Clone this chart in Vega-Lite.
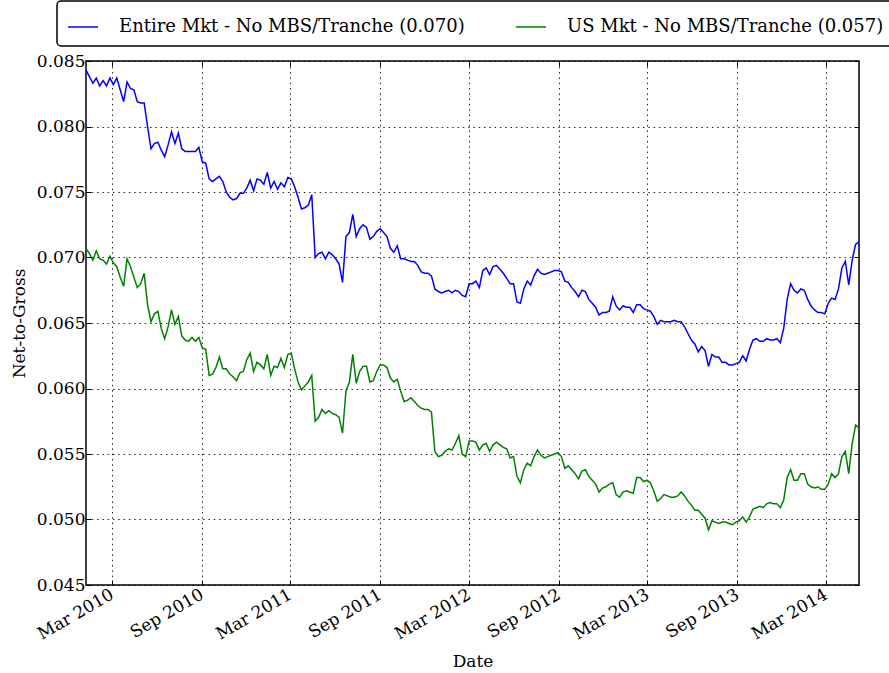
{
  "$schema": "https://vega.github.io/schema/vega-lite/v6.json",
  "autosize": {"type": "none"},
  "width": 773,
  "height": 524,
  "padding": {"left": 86, "top": 61, "right": 30, "bottom": 88},
  "background": "white",
  "config": {
    "view": {"stroke": "black", "strokeWidth": 1.5},
    "font": "DejaVu Serif",
    "legend": {"strokeWidth": 1.5},
    "axis": {
      "labelFont": "DejaVu Serif",
      "titleFont": "DejaVu Serif",
      "labelFontSize": 17,
      "titleFontSize": 17,
      "titleFontWeight": "normal",
      "labelColor": "black",
      "titleColor": "black",
      "domain": false,
      "tickColor": "black",
      "tickSize": -5,
      "tickWidth": 1
    }
  },
  "data": {
    "format": {"parse": {"d": "date:'%Y-%m-%d'"}},
    "values": [
{"d":"2010-01-07","e":0.0843,"u":0.0707},
{"d":"2010-01-14","e":0.0838,"u":0.0703},
{"d":"2010-01-21","e":0.0833,"u":0.0698},
{"d":"2010-01-28","e":0.0837,"u":0.0705},
{"d":"2010-02-04","e":0.0831,"u":0.0699},
{"d":"2010-02-11","e":0.0835,"u":0.0698},
{"d":"2010-02-18","e":0.0831,"u":0.0695},
{"d":"2010-02-25","e":0.0837,"u":0.0701},
{"d":"2010-03-04","e":0.0832,"u":0.0696},
{"d":"2010-03-11","e":0.0837,"u":0.0693},
{"d":"2010-03-18","e":0.0828,"u":0.0685},
{"d":"2010-03-25","e":0.0819,"u":0.0678},
{"d":"2010-04-01","e":0.0834,"u":0.0699},
{"d":"2010-04-08","e":0.0829,"u":0.0693},
{"d":"2010-04-15","e":0.0828,"u":0.0685},
{"d":"2010-04-22","e":0.0819,"u":0.0677},
{"d":"2010-04-29","e":0.0818,"u":0.0680},
{"d":"2010-05-06","e":0.0818,"u":0.0688},
{"d":"2010-05-13","e":0.0800,"u":0.0664},
{"d":"2010-05-20","e":0.0783,"u":0.0651},
{"d":"2010-05-27","e":0.0787,"u":0.0657},
{"d":"2010-06-03","e":0.0788,"u":0.0659},
{"d":"2010-06-10","e":0.0782,"u":0.0646},
{"d":"2010-06-17","e":0.0777,"u":0.0638},
{"d":"2010-06-24","e":0.0786,"u":0.0647},
{"d":"2010-07-01","e":0.0796,"u":0.0660},
{"d":"2010-07-08","e":0.0787,"u":0.0649},
{"d":"2010-07-15","e":0.0795,"u":0.0655},
{"d":"2010-07-22","e":0.0783,"u":0.0640},
{"d":"2010-07-29","e":0.0781,"u":0.0637},
{"d":"2010-08-05","e":0.0781,"u":0.0636},
{"d":"2010-08-12","e":0.0781,"u":0.0639},
{"d":"2010-08-19","e":0.0781,"u":0.0636},
{"d":"2010-08-26","e":0.0784,"u":0.0639},
{"d":"2010-09-02","e":0.0773,"u":0.0631},
{"d":"2010-09-09","e":0.0772,"u":0.0630},
{"d":"2010-09-16","e":0.0760,"u":0.0610},
{"d":"2010-09-23","e":0.0758,"u":0.0611},
{"d":"2010-09-30","e":0.0760,"u":0.0616},
{"d":"2010-10-07","e":0.0762,"u":0.0624},
{"d":"2010-10-14","e":0.0758,"u":0.0615},
{"d":"2010-10-21","e":0.0750,"u":0.0615},
{"d":"2010-10-28","e":0.0746,"u":0.0611},
{"d":"2010-11-04","e":0.0744,"u":0.0609},
{"d":"2010-11-11","e":0.0745,"u":0.0606},
{"d":"2010-11-18","e":0.0749,"u":0.0612},
{"d":"2010-11-25","e":0.0749,"u":0.0613},
{"d":"2010-12-02","e":0.0753,"u":0.0622},
{"d":"2010-12-09","e":0.0759,"u":0.0627},
{"d":"2010-12-16","e":0.0751,"u":0.0613},
{"d":"2010-12-23","e":0.0760,"u":0.0620},
{"d":"2010-12-30","e":0.0759,"u":0.0618},
{"d":"2011-01-06","e":0.0756,"u":0.0615},
{"d":"2011-01-13","e":0.0765,"u":0.0626},
{"d":"2011-01-20","e":0.0753,"u":0.0610},
{"d":"2011-01-27","e":0.0758,"u":0.0617},
{"d":"2011-02-03","e":0.0752,"u":0.0616},
{"d":"2011-02-10","e":0.0757,"u":0.0623},
{"d":"2011-02-17","e":0.0754,"u":0.0616},
{"d":"2011-02-24","e":0.0761,"u":0.0626},
{"d":"2011-03-03","e":0.0760,"u":0.0627},
{"d":"2011-03-10","e":0.0754,"u":0.0615},
{"d":"2011-03-17","e":0.0746,"u":0.0605},
{"d":"2011-03-24","e":0.0737,"u":0.0599},
{"d":"2011-03-31","e":0.0738,"u":0.0602},
{"d":"2011-04-07","e":0.0740,"u":0.0605},
{"d":"2011-04-14","e":0.0748,"u":0.0610},
{"d":"2011-04-21","e":0.0700,"u":0.0575},
{"d":"2011-04-28","e":0.0703,"u":0.0578},
{"d":"2011-05-05","e":0.0704,"u":0.0584},
{"d":"2011-05-12","e":0.0699,"u":0.0581},
{"d":"2011-05-19","e":0.0704,"u":0.0583},
{"d":"2011-05-26","e":0.0702,"u":0.0581},
{"d":"2011-06-02","e":0.0699,"u":0.0580},
{"d":"2011-06-09","e":0.0695,"u":0.0578},
{"d":"2011-06-16","e":0.0681,"u":0.0566},
{"d":"2011-06-23","e":0.0716,"u":0.0598},
{"d":"2011-06-30","e":0.0719,"u":0.0605},
{"d":"2011-07-07","e":0.0733,"u":0.0626},
{"d":"2011-07-14","e":0.0716,"u":0.0604},
{"d":"2011-07-21","e":0.0722,"u":0.0613},
{"d":"2011-07-28","e":0.0725,"u":0.0617},
{"d":"2011-08-04","e":0.0723,"u":0.0617},
{"d":"2011-08-11","e":0.0714,"u":0.0605},
{"d":"2011-08-18","e":0.0716,"u":0.0606},
{"d":"2011-08-25","e":0.0720,"u":0.0613},
{"d":"2011-09-01","e":0.0722,"u":0.0618},
{"d":"2011-09-08","e":0.0719,"u":0.0618},
{"d":"2011-09-15","e":0.0716,"u":0.0616},
{"d":"2011-09-22","e":0.0707,"u":0.0608},
{"d":"2011-09-29","e":0.0704,"u":0.0605},
{"d":"2011-10-06","e":0.0709,"u":0.0607},
{"d":"2011-10-13","e":0.0699,"u":0.0598},
{"d":"2011-10-20","e":0.0699,"u":0.0590},
{"d":"2011-10-27","e":0.0698,"u":0.0591},
{"d":"2011-11-03","e":0.0697,"u":0.0593},
{"d":"2011-11-10","e":0.0697,"u":0.0590},
{"d":"2011-11-17","e":0.0694,"u":0.0587},
{"d":"2011-11-24","e":0.0689,"u":0.0585},
{"d":"2011-12-01","e":0.0688,"u":0.0584},
{"d":"2011-12-08","e":0.0688,"u":0.0584},
{"d":"2011-12-15","e":0.0686,"u":0.0582},
{"d":"2011-12-22","e":0.0676,"u":0.0552},
{"d":"2011-12-29","e":0.0674,"u":0.0548},
{"d":"2012-01-05","e":0.0673,"u":0.0549},
{"d":"2012-01-12","e":0.0674,"u":0.0552},
{"d":"2012-01-19","e":0.0675,"u":0.0554},
{"d":"2012-01-26","e":0.0673,"u":0.0553},
{"d":"2012-02-02","e":0.0675,"u":0.0558},
{"d":"2012-02-09","e":0.0674,"u":0.0564},
{"d":"2012-02-16","e":0.0671,"u":0.0550},
{"d":"2012-02-23","e":0.0670,"u":0.0548},
{"d":"2012-03-01","e":0.0680,"u":0.0560},
{"d":"2012-03-08","e":0.0680,"u":0.0560},
{"d":"2012-03-15","e":0.0682,"u":0.0559},
{"d":"2012-03-22","e":0.0677,"u":0.0553},
{"d":"2012-03-29","e":0.0690,"u":0.0557},
{"d":"2012-04-05","e":0.0692,"u":0.0558},
{"d":"2012-04-12","e":0.0687,"u":0.0552},
{"d":"2012-04-19","e":0.0693,"u":0.0557},
{"d":"2012-04-26","e":0.0694,"u":0.0559},
{"d":"2012-05-03","e":0.0691,"u":0.0557},
{"d":"2012-05-10","e":0.0688,"u":0.0555},
{"d":"2012-05-17","e":0.0684,"u":0.0554},
{"d":"2012-05-24","e":0.0680,"u":0.0547},
{"d":"2012-05-31","e":0.0680,"u":0.0548},
{"d":"2012-06-07","e":0.0666,"u":0.0533},
{"d":"2012-06-14","e":0.0665,"u":0.0528},
{"d":"2012-06-21","e":0.0676,"u":0.0538},
{"d":"2012-06-28","e":0.0682,"u":0.0543},
{"d":"2012-07-05","e":0.0679,"u":0.0541},
{"d":"2012-07-12","e":0.0686,"u":0.0548},
{"d":"2012-07-19","e":0.0691,"u":0.0553},
{"d":"2012-07-26","e":0.0688,"u":0.0549},
{"d":"2012-08-02","e":0.0687,"u":0.0547},
{"d":"2012-08-09","e":0.0688,"u":0.0548},
{"d":"2012-08-16","e":0.0689,"u":0.0549},
{"d":"2012-08-23","e":0.0690,"u":0.0550},
{"d":"2012-08-30","e":0.0690,"u":0.0551},
{"d":"2012-09-06","e":0.0689,"u":0.0548},
{"d":"2012-09-13","e":0.0682,"u":0.0539},
{"d":"2012-09-20","e":0.0681,"u":0.0541},
{"d":"2012-09-27","e":0.0677,"u":0.0538},
{"d":"2012-10-04","e":0.0674,"u":0.0535},
{"d":"2012-10-11","e":0.0670,"u":0.0531},
{"d":"2012-10-18","e":0.0675,"u":0.0537},
{"d":"2012-10-25","e":0.0674,"u":0.0538},
{"d":"2012-11-01","e":0.0668,"u":0.0533},
{"d":"2012-11-08","e":0.0665,"u":0.0530},
{"d":"2012-11-15","e":0.0662,"u":0.0527},
{"d":"2012-11-22","e":0.0656,"u":0.0521},
{"d":"2012-11-29","e":0.0658,"u":0.0524},
{"d":"2012-12-06","e":0.0658,"u":0.0525},
{"d":"2012-12-13","e":0.0659,"u":0.0527},
{"d":"2012-12-20","e":0.0670,"u":0.0528},
{"d":"2012-12-27","e":0.0663,"u":0.0519},
{"d":"2013-01-03","e":0.0660,"u":0.0517},
{"d":"2013-01-10","e":0.0663,"u":0.0521},
{"d":"2013-01-17","e":0.0662,"u":0.0522},
{"d":"2013-01-24","e":0.0662,"u":0.0521},
{"d":"2013-01-31","e":0.0658,"u":0.0520},
{"d":"2013-02-07","e":0.0664,"u":0.0532},
{"d":"2013-02-14","e":0.0664,"u":0.0532},
{"d":"2013-02-21","e":0.0661,"u":0.0529},
{"d":"2013-02-28","e":0.0660,"u":0.0530},
{"d":"2013-03-07","e":0.0659,"u":0.0528},
{"d":"2013-03-14","e":0.0655,"u":0.0522},
{"d":"2013-03-21","e":0.0649,"u":0.0514},
{"d":"2013-03-28","e":0.0652,"u":0.0516},
{"d":"2013-04-04","e":0.0651,"u":0.0519},
{"d":"2013-04-11","e":0.0651,"u":0.0518},
{"d":"2013-04-18","e":0.0651,"u":0.0517},
{"d":"2013-04-25","e":0.0652,"u":0.0517},
{"d":"2013-05-02","e":0.0651,"u":0.0518},
{"d":"2013-05-09","e":0.0651,"u":0.0521},
{"d":"2013-05-16","e":0.0647,"u":0.0518},
{"d":"2013-05-23","e":0.0642,"u":0.0514},
{"d":"2013-05-30","e":0.0637,"u":0.0511},
{"d":"2013-06-06","e":0.0634,"u":0.0507},
{"d":"2013-06-13","e":0.0628,"u":0.0507},
{"d":"2013-06-20","e":0.0632,"u":0.0504},
{"d":"2013-06-27","e":0.0629,"u":0.0501},
{"d":"2013-07-04","e":0.0617,"u":0.0492},
{"d":"2013-07-11","e":0.0626,"u":0.0499},
{"d":"2013-07-18","e":0.0624,"u":0.0498},
{"d":"2013-07-25","e":0.0624,"u":0.0497},
{"d":"2013-08-01","e":0.0620,"u":0.0498},
{"d":"2013-08-08","e":0.0620,"u":0.0498},
{"d":"2013-08-15","e":0.0618,"u":0.0497},
{"d":"2013-08-22","e":0.0618,"u":0.0496},
{"d":"2013-08-29","e":0.0619,"u":0.0498},
{"d":"2013-09-05","e":0.0620,"u":0.0499},
{"d":"2013-09-12","e":0.0625,"u":0.0502},
{"d":"2013-09-19","e":0.0621,"u":0.0498},
{"d":"2013-09-26","e":0.0630,"u":0.0502},
{"d":"2013-10-03","e":0.0637,"u":0.0508},
{"d":"2013-10-10","e":0.0638,"u":0.0509},
{"d":"2013-10-17","e":0.0636,"u":0.0510},
{"d":"2013-10-24","e":0.0636,"u":0.0509},
{"d":"2013-10-31","e":0.0638,"u":0.0512},
{"d":"2013-11-07","e":0.0637,"u":0.0513},
{"d":"2013-11-14","e":0.0637,"u":0.0512},
{"d":"2013-11-21","e":0.0638,"u":0.0512},
{"d":"2013-11-28","e":0.0635,"u":0.0509},
{"d":"2013-12-05","e":0.0646,"u":0.0515},
{"d":"2013-12-12","e":0.0668,"u":0.0532},
{"d":"2013-12-19","e":0.0680,"u":0.0538},
{"d":"2013-12-26","e":0.0675,"u":0.0530},
{"d":"2014-01-02","e":0.0673,"u":0.0530},
{"d":"2014-01-09","e":0.0676,"u":0.0535},
{"d":"2014-01-16","e":0.0675,"u":0.0535},
{"d":"2014-01-23","e":0.0668,"u":0.0527},
{"d":"2014-01-30","e":0.0663,"u":0.0525},
{"d":"2014-02-06","e":0.0660,"u":0.0524},
{"d":"2014-02-13","e":0.0658,"u":0.0525},
{"d":"2014-02-20","e":0.0658,"u":0.0523},
{"d":"2014-02-27","e":0.0657,"u":0.0523},
{"d":"2014-03-06","e":0.0665,"u":0.0527},
{"d":"2014-03-13","e":0.0669,"u":0.0535},
{"d":"2014-03-20","e":0.0668,"u":0.0532},
{"d":"2014-03-27","e":0.0676,"u":0.0535},
{"d":"2014-04-03","e":0.0692,"u":0.0548},
{"d":"2014-04-10","e":0.0697,"u":0.0552},
{"d":"2014-04-17","e":0.0679,"u":0.0535},
{"d":"2014-04-24","e":0.0698,"u":0.0558},
{"d":"2014-05-01","e":0.0710,"u":0.0572},
{"d":"2014-05-08","e":0.0712,"u":0.0570}
    ]
  },
  "transform": [{"fold": ["e", "u"], "as": ["s", "v"]}],
  "layer": [
    {
      "mark": {"type": "line", "strokeWidth": 1.5, "clip": true},
      "encoding": {
        "x": {
          "field": "d",
          "type": "temporal",
          "scale": {"domain": [{"year": 2010, "month": 1, "date": 7}, {"year": 2014, "month": 5, "date": 8}]},
          "axis": {
            "orient": "bottom",
            "title": "Date",
            "values": [
              {"year": 2010, "month": 3, "date": 1}, {"year": 2010, "month": 9, "date": 1},
              {"year": 2011, "month": 3, "date": 1}, {"year": 2011, "month": 9, "date": 1},
              {"year": 2012, "month": 3, "date": 1}, {"year": 2012, "month": 9, "date": 1},
              {"year": 2013, "month": 3, "date": 1}, {"year": 2013, "month": 9, "date": 1},
              {"year": 2014, "month": 3, "date": 1}
            ],
            "format": "%b %Y",
            "labelAngle": -30,
            "labelAlign": "right",
            "labelBaseline": "top",
            "labelPadding": 6,
            "labelOffset": -4,
            "titlePadding": 11,
            "grid": true,
            "gridColor": "black",
            "gridDash": [1.5, 3.8],
            "gridWidth": 1,
            "gridOpacity": 0.85
          }
        },
        "y": {
          "field": "v",
          "type": "quantitative",
          "scale": {"domain": [0.045, 0.085], "nice": false, "zero": false},
          "axis": {
            "orient": "left",
            "title": "Net-to-Gross",
            "values": [0.045, 0.05, 0.055, 0.06, 0.065, 0.07, 0.075, 0.08, 0.085],
            "format": ".3f",
            "labelPadding": 6,
            "titlePadding": 8,
            "grid": true,
            "gridColor": "black",
            "gridDash": [1.5, 3.8],
            "gridWidth": 1,
            "gridOpacity": 0.85
          }
        },
        "color": {
          "field": "s",
          "type": "nominal",
          "scale": {"domain": ["e", "u"], "range": ["#0000ff", "#008000"]},
          "legend": {
            "title": null,
            "orient": "none",
            "legendX": -29,
            "legendY": -60,
            "direction": "horizontal",
            "fillColor": "white",
            "strokeColor": "black",
            "cornerRadius": 4,
            "padding": 10,
            "symbolType": "stroke",
            "symbolSize": 900,
            "symbolStrokeWidth": 1.5,
            "labelFont": "DejaVu Serif",
            "labelFontSize": 18,
            "labelColor": "black",
            "labelLimit": 0,
            "labelOffset": 20,
            "columnPadding": 48,
            "labelExpr": "datum.value == 'e' ? 'Entire Mkt - No MBS/Tranche (0.070)' : 'US Mkt - No MBS/Tranche (0.057)'"
          }
        }
      }
    },
    {
      "mark": {"type": "line", "strokeOpacity": 0},
      "encoding": {
        "x": {
          "field": "d",
          "type": "temporal",
          "axis": {
            "orient": "top",
            "title": null,
            "labels": false,
            "grid": false,
            "values": [
              {"year": 2010, "month": 3, "date": 1}, {"year": 2010, "month": 9, "date": 1},
              {"year": 2011, "month": 3, "date": 1}, {"year": 2011, "month": 9, "date": 1},
              {"year": 2012, "month": 3, "date": 1}, {"year": 2012, "month": 9, "date": 1},
              {"year": 2013, "month": 3, "date": 1}, {"year": 2013, "month": 9, "date": 1},
              {"year": 2014, "month": 3, "date": 1}
            ]
          }
        },
        "y": {
          "field": "v",
          "type": "quantitative",
          "axis": {
            "orient": "right",
            "title": null,
            "labels": false,
            "grid": false,
            "values": [0.045, 0.05, 0.055, 0.06, 0.065, 0.07, 0.075, 0.08, 0.085]
          }
        },
        "detail": {"field": "s"}
      }
    }
  ],
  "resolve": {"axis": {"x": "independent", "y": "independent"}}
}
